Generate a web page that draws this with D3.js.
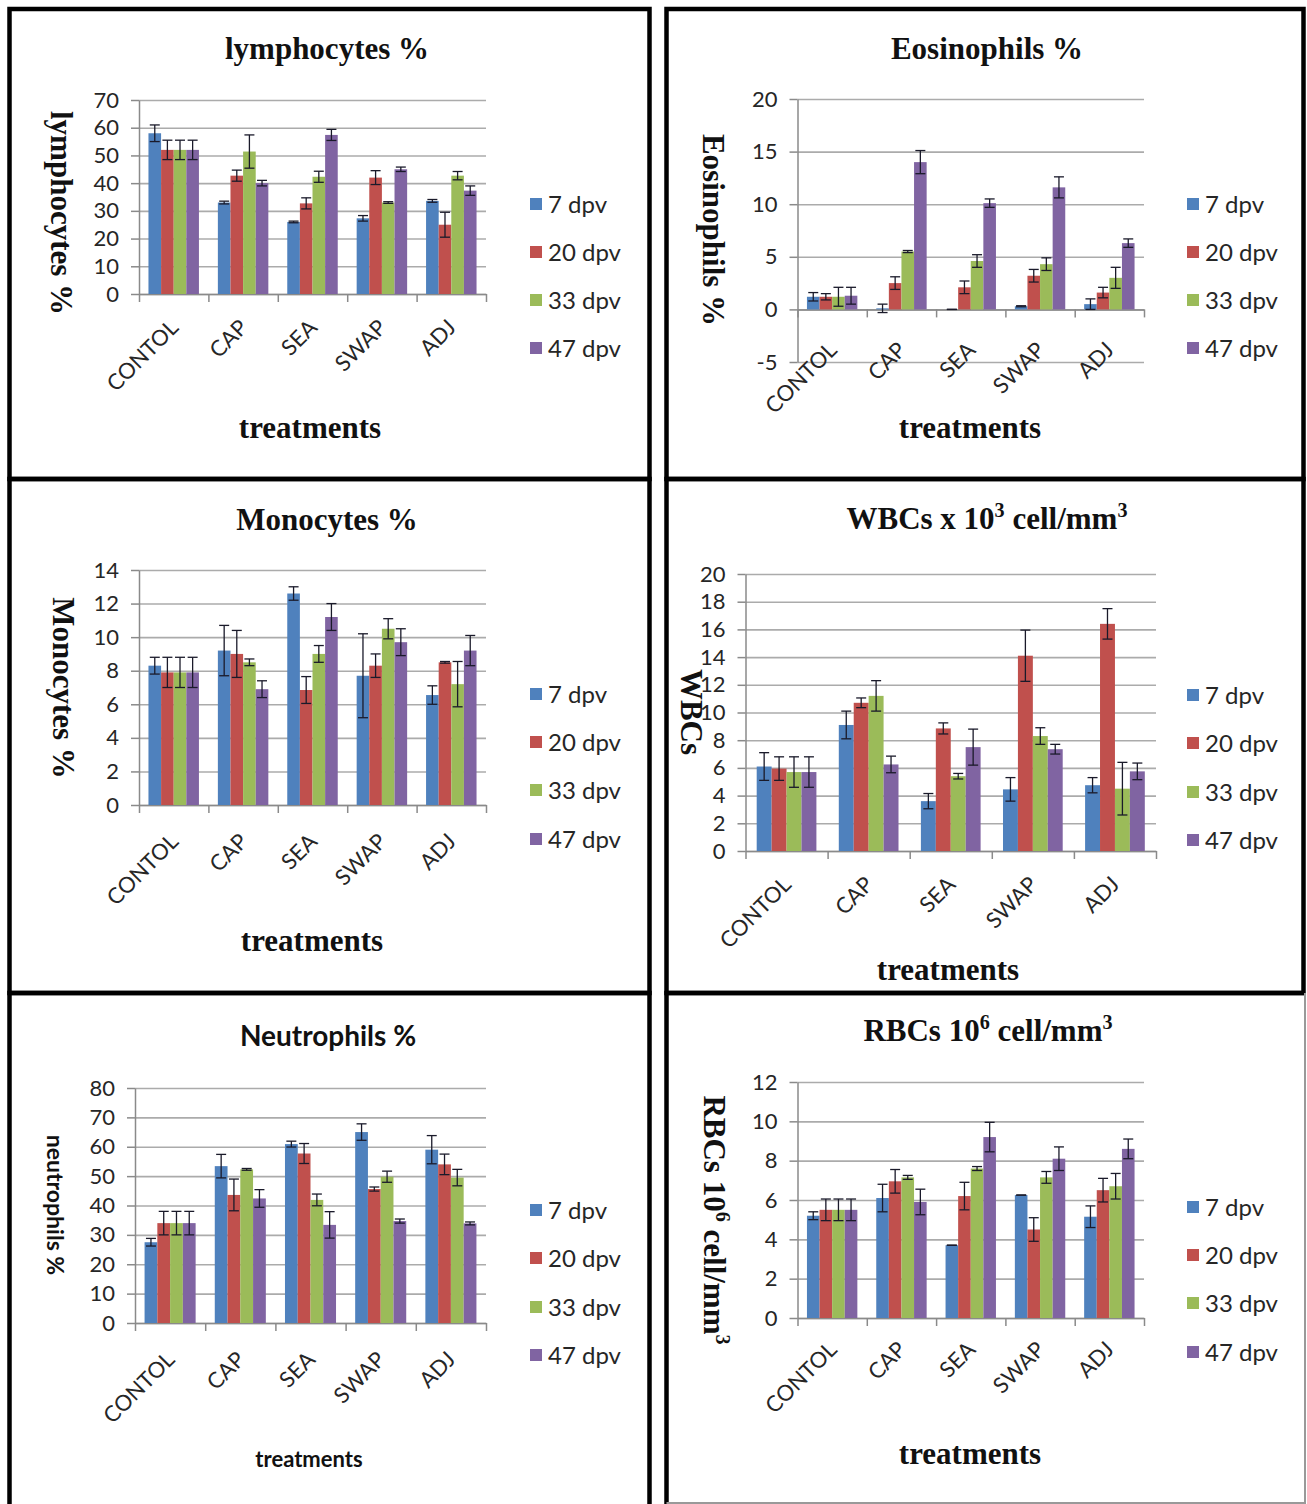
<!DOCTYPE html>
<html>
<head>
<meta charset="utf-8">
<script src="https://cdn.jsdelivr.net/npm/d3@7"></script>
<style>
  body { margin: 0; background: #fff; }
  svg { display: block; }
</style>
</head>
<body>
<svg id="fig" width="1307" height="1504"></svg>
<script>
// categories and series
const treatments = ["CONTOL", "CAP", "SEA", "SWAP", "ADJ"];
const days = ["7 dpv", "20 dpv", "33 dpv", "47 dpv"];
const dayColors = ["#4F81BD", "#C0504D", "#9BBB59", "#8064A2"];

// one row per treatment, one value per day (7, 20, 33, 47 dpv)
const lymphocytes    = [[58, 52, 52, 52], [33, 42.7, 51.4, 40], [26, 32.7, 42.3, 57.4], [27.3, 42, 33, 45], [33.6, 25, 42.7, 37.3]];
const lymphocytesErr = [[3, 3.5, 3.5, 3.5], [0.5, 2, 6, 1], [0.3, 2, 2, 2], [1, 2.5, 0.3, 0.8], [0.5, 4.5, 1.5, 1.7]];
const lymphTicks = [0, 10, 20, 30, 40, 50, 60, 70];

const eosinophils    = [[1.2, 1.2, 1.2, 1.3], [0.1, 2.5, 5.5, 14.0], [0, 2.1, 4.6, 10.1], [0.3, 3.2, 4.3, 11.6], [0.5, 1.6, 3.0, 6.3]];
const eosinophilsErr = [[0.4, 0.3, 0.9, 0.8], [0.4, 0.6, 0.1, 1.1], [0, 0.6, 0.6, 0.4], [0.05, 0.6, 0.6, 1.0], [0.5, 0.5, 1.0, 0.4]];
const eosTicks = [-5, 0, 5, 10, 15, 20];

const monocytes    = [[8.3, 7.9, 7.9, 7.9], [9.2, 9.0, 8.5, 6.9], [12.6, 6.85, 9.0, 11.2], [7.7, 8.3, 10.5, 9.7], [6.55, 8.5, 7.2, 9.2]];
const monocytesErr = [[0.5, 0.9, 0.9, 0.9], [1.5, 1.4, 0.2, 0.5], [0.4, 0.8, 0.5, 0.8], [2.5, 0.7, 0.6, 0.8], [0.55, 0.05, 1.35, 0.9]];
const monoTicks = [0, 2, 4, 6, 8, 10, 12, 14];

const wbcs    = [[6.1, 5.95, 5.7, 5.7], [9.1, 10.7, 11.2, 6.25], [3.6, 8.85, 5.4, 7.5], [4.45, 14.1, 8.3, 7.35], [4.75, 16.4, 4.5, 5.75]];
const wbcsErr = [[1.0, 0.85, 1.1, 1.1], [1.0, 0.35, 1.1, 0.6], [0.55, 0.4, 0.2, 1.3], [0.85, 1.85, 0.6, 0.35], [0.55, 1.1, 1.9, 0.6]];
const wbcTicks = [0, 2, 4, 6, 8, 10, 12, 14, 16, 18, 20];

const neutrophils    = [[27.5, 34, 34, 34], [53.4, 43.6, 52.3, 42.4], [60.9, 57.7, 41.9, 33.4], [65, 45.6, 49.8, 34.7], [59, 54, 49.5, 33.9]];
const neutrophilsErr = [[1.3, 4, 4, 4], [4, 5.4, 0.3, 3], [1, 3.4, 2, 4.5], [2.8, 0.7, 1.9, 0.7], [4.8, 3.5, 2.8, 0.5]];
const neutTicks = [0, 10, 20, 30, 40, 50, 60, 70, 80];

const rbcs    = [[5.2, 5.5, 5.5, 5.5], [6.1, 6.95, 7.15, 5.9], [3.7, 6.2, 7.6, 9.2], [6.25, 4.5, 7.15, 8.1], [5.15, 6.5, 6.7, 8.6]];
const rbcsErr = [[0.2, 0.55, 0.55, 0.55], [0.7, 0.6, 0.1, 0.65], [0, 0.7, 0.1, 0.75], [0, 0.6, 0.3, 0.6], [0.55, 0.6, 0.65, 0.5]];
const rbcTicks = [0, 2, 4, 6, 8, 10, 12];

const SERIF = "'Liberation Serif', 'Times New Roman', serif";
const SANS = "Lato, 'Open Sans', sans-serif";
const GRID = "#ababab";
const AXIS = "#8a8a8a";

const svg = d3.select("#fig");
svg.append("rect").attr("width", 1307).attr("height", 1504).attr("fill", "#fff");

// panel frames
const frame = svg.append("g").attr("fill", "none").attr("stroke", "#000").attr("stroke-width", 4.5);
[[9.5, 9, 649.5, 479], [666.5, 9, 1303.5, 479], [9.5, 479, 649.5, 993], [666.5, 479, 1303.5, 993]].forEach(b => {
    frame.append("rect").attr("x", b[0]).attr("y", b[1]).attr("width", b[2] - b[0]).attr("height", b[3] - b[1]);
});
frame.append("path").attr("d", "M9.5,1504V993H649.5V1504");
frame.append("path").attr("d", "M666.5,1504V993H1304");
svg.append("path").attr("d", "M1305,993V1503H666.5").attr("fill", "none").attr("stroke", "#999").attr("stroke-width", 2);

// writes a label made of plain and superscript pieces
function richText(sel, parts, size) {
    parts.forEach((p, i) => {
        const sup = typeof p !== "string";
        const t = sel.append("tspan").text(sup ? p.sup : p);
        if (sup) t.attr("font-size", size * 0.65).attr("dy", -size * 0.4);
        else if (i > 0) t.attr("dy", size * 0.4);
    });
}

function drawPanel(c) {
    const g = svg.append("g");
    const y = d3.scaleLinear().domain(c.domain).range([c.bottom, c.top]);
    const x0 = d3.scaleBand().domain(treatments).range([c.left, c.right])
        .paddingInner(1.5 / 5.5).paddingOuter(0.75 / 5.5);
    const x1 = d3.scaleBand().domain(days).range([0, x0.bandwidth()]);
    const edge = d3.scaleLinear().domain([0, treatments.length]).range([c.left, c.right]);
    const w = c.right - c.left;

    // gridlines
    g.append("g")
        .attr("transform", `translate(${c.left},0)`)
        .call(d3.axisLeft(y).tickValues(c.ticks).tickSize(-w).tickFormat(""))
        .call(a => a.select(".domain").remove())
        .selectAll("line").attr("stroke", GRID).attr("stroke-width", 1.6);

    // value axis (plain hyphen for negatives, as in the original)
    g.append("g")
        .attr("transform", `translate(${c.left},0)`)
        .call(d3.axisLeft(y).tickValues(c.ticks).tickFormat(d => String(d))
            .tickSizeInner(8).tickSizeOuter(0).tickPadding(12))
        .call(a => {
            a.select(".domain").attr("stroke", AXIS).attr("stroke-width", 1.5);
            a.selectAll("line").attr("stroke", AXIS).attr("stroke-width", 1.5);
            a.selectAll("text").attr("font-family", SANS).attr("font-size", 22).attr("fill", "#262626");
        });

    // category axis with boundary ticks
    g.append("g")
        .attr("transform", `translate(0,${y(0)})`)
        .call(d3.axisBottom(edge).tickValues(d3.range(treatments.length + 1)).tickSizeInner(8).tickSizeOuter(0).tickFormat(""))
        .call(a => {
            a.select(".domain").attr("stroke", AXIS).attr("stroke-width", 1.5);
            a.selectAll("line").attr("stroke", AXIS).attr("stroke-width", 1.5);
        });

    const rows = c.values.map((row, i) => ({ cat: treatments[i], row, err: c.errs[i] }));
    const cats = g.selectAll("g.cat").data(rows).join("g")
        .attr("class", "cat")
        .attr("transform", d => `translate(${x0(d.cat)},0)`);

    const items = d => d.row.map((v, j) => ({ day: days[j], v, e: d.err[j], j }));

    cats.selectAll("rect").data(items).join("rect")
        .attr("x", d => x1(d.day))
        .attr("width", x1.bandwidth())
        .attr("y", d => Math.min(y(d.v), y(0)))
        .attr("height", d => Math.abs(y(0) - y(d.v)))
        .attr("fill", d => dayColors[d.j]);

    // error bars
    const cap = 5;
    const eb = cats.selectAll("g.err").data(items).join("g")
        .attr("class", "err")
        .attr("stroke", "#1a1a2a").attr("stroke-width", 1.3);
    eb.append("line")
        .attr("x1", d => x1(d.day) + x1.bandwidth() / 2).attr("x2", d => x1(d.day) + x1.bandwidth() / 2)
        .attr("y1", d => y(d.v - d.e)).attr("y2", d => y(d.v + d.e));
    eb.append("line")
        .attr("x1", d => x1(d.day) + x1.bandwidth() / 2 - cap).attr("x2", d => x1(d.day) + x1.bandwidth() / 2 + cap)
        .attr("y1", d => y(d.v + d.e)).attr("y2", d => y(d.v + d.e));
    eb.append("line")
        .attr("x1", d => x1(d.day) + x1.bandwidth() / 2 - cap).attr("x2", d => x1(d.day) + x1.bandwidth() / 2 + cap)
        .attr("y1", d => y(d.v - d.e)).attr("y2", d => y(d.v - d.e));

    // rotated category labels
    g.selectAll("text.cat").data(treatments).join("text")
        .attr("class", "cat")
        .attr("transform", d => `translate(${x0(d) + x0.bandwidth() / 2 + 6},${y(0) + c.lblDy}) rotate(-45)`)
        .attr("text-anchor", "end")
        .attr("font-family", SANS).attr("font-size", 22).attr("fill", "#262626")
        .text(d => d);

    // legend
    const lg = g.selectAll("g.leg").data(days).join("g")
        .attr("class", "leg")
        .attr("transform", (d, i) => `translate(${c.legendX},${c.legendY[i]})`);
    lg.append("rect").attr("x", 0).attr("y", -6).attr("width", 12).attr("height", 12)
        .attr("fill", (d, i) => dayColors[i]);
    lg.append("text").attr("x", 18).attr("dy", "0.36em")
        .attr("font-family", SANS).attr("font-size", 24).attr("fill", "#262626")
        .text(d => d);

    // titles
    const font = c.sans ? SANS : SERIF;
    const t = g.append("text")
        .attr("x", c.titleX).attr("y", c.titleY)
        .attr("text-anchor", "middle").attr("font-family", font).attr("font-weight", "bold")
        .attr("font-size", c.titleSize).attr("fill", "#111");
    richText(t, c.title, c.titleSize);

    const yl = g.append("text")
        .attr("transform", `translate(${c.yLabelX},${c.yLabelY}) rotate(90)`)
        .attr("text-anchor", "middle").attr("font-family", font).attr("font-weight", "bold")
        .attr("font-size", c.yLabelSize).attr("fill", "#111");
    richText(yl, c.yLabel, c.yLabelSize);

    g.append("text")
        .attr("x", c.xTitleX).attr("y", c.xTitleY)
        .attr("text-anchor", "middle").attr("font-family", font).attr("font-weight", "bold")
        .attr("font-size", c.xTitleSize).attr("fill", "#111")
        .text("treatments");
}

const panels = [
    { values: lymphocytes, errs: lymphocytesErr, ticks: lymphTicks, domain: [0, 70],
      left: 139, right: 486, top: 100, bottom: 294, lblDy: 35,
      title: ["lymphocytes %"], titleX: 327, titleY: 59, titleSize: 31,
      yLabel: ["lymphocytes %"], yLabelX: 51, yLabelY: 213, yLabelSize: 31,
      xTitleX: 310, xTitleY: 438, xTitleSize: 31,
      legendX: 530, legendY: [204, 252, 300, 348] },
    { values: eosinophils, errs: eosinophilsErr, ticks: eosTicks, domain: [-5, 20],
      left: 797.5, right: 1144, top: 99, bottom: 362, lblDy: 42,
      title: ["Eosinophils %"], titleX: 987, titleY: 59, titleSize: 31,
      yLabel: ["Eosinophils %"], yLabelX: 703, yLabelY: 230, yLabelSize: 31,
      xTitleX: 970, xTitleY: 438, xTitleSize: 31,
      legendX: 1187, legendY: [204, 252, 300, 348] },
    { values: monocytes, errs: monocytesErr, ticks: monoTicks, domain: [0, 14],
      left: 139, right: 486, top: 570, bottom: 805, lblDy: 38,
      title: ["Monocytes %"], titleX: 327, titleY: 530, titleSize: 31,
      yLabel: ["Monocytes %"], yLabelX: 53, yLabelY: 688, yLabelSize: 31,
      xTitleX: 312, xTitleY: 951, xTitleSize: 31,
      legendX: 530, legendY: [694, 742, 790, 839] },
    { values: wbcs, errs: wbcsErr, ticks: wbcTicks, domain: [0, 20],
      left: 745.5, right: 1156, top: 574, bottom: 851, lblDy: 35,
      title: ["WBCs  x 10", { sup: "3" }, " cell/mm", { sup: "3" }], titleX: 987, titleY: 529, titleSize: 31,
      yLabel: ["WBCs"], yLabelX: 681, yLabelY: 712, yLabelSize: 31,
      xTitleX: 948, xTitleY: 980, xTitleSize: 31,
      legendX: 1187, legendY: [695, 743, 792, 840] },
    { values: neutrophils, errs: neutrophilsErr, ticks: neutTicks, domain: [0, 80], sans: true,
      left: 135, right: 486, top: 1088, bottom: 1323, lblDy: 38,
      title: ["Neutrophils %"], titleX: 328, titleY: 1046, titleSize: 28,
      yLabel: ["neutrophils %"], yLabelX: 47, yLabelY: 1205, yLabelSize: 23,
      xTitleX: 309, xTitleY: 1467, xTitleSize: 22,
      legendX: 530, legendY: [1210, 1258, 1307, 1355] },
    { values: rbcs, errs: rbcsErr, ticks: rbcTicks, domain: [0, 12],
      left: 797.5, right: 1144, top: 1082, bottom: 1318, lblDy: 33,
      title: ["RBCs 10", { sup: "6" }, " cell/mm", { sup: "3" }], titleX: 988, titleY: 1041, titleSize: 31,
      yLabel: ["RBCs 10", { sup: "6" }, " cell/mm", { sup: "3" }], yLabelX: 704, yLabelY: 1220, yLabelSize: 31,
      xTitleX: 970, xTitleY: 1464, xTitleSize: 31,
      legendX: 1187, legendY: [1207, 1255, 1303, 1352] }
];

panels.forEach(drawPanel);
</script>
</body>
</html>
